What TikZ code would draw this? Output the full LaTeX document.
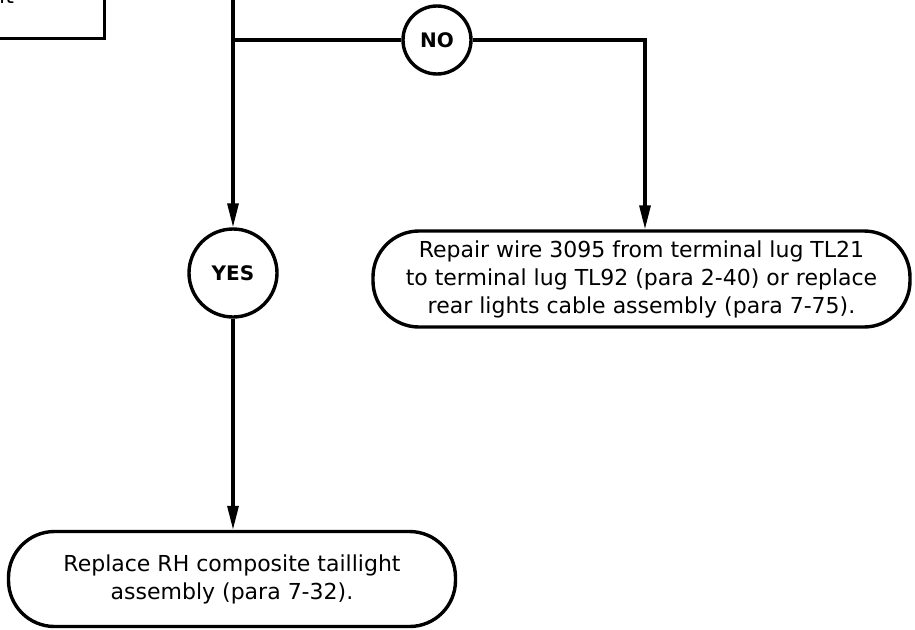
\documentclass[tikz,border=0pt]{standalone}
\usepackage{fontspec}
\setmainfont{DejaVu Sans}
\usetikzlibrary{arrows.meta}
\begin{document}
\begin{tikzpicture}[x=1pt,y=-1pt,
  line/.style={line width=3.2pt},
  conn/.style={line width=3.2pt,-{Triangle[length=24pt,width=11pt]}},
  action/.style={draw,line width=3.4pt,rounded corners=46pt,align=center,inner sep=0pt,
    font=\fontsize{22}{28}\selectfont},
  decision/.style={draw,circle,line width=3.4pt,inner sep=0pt,
    font=\bfseries\fontsize{20}{22}\selectfont},
  prevbox/.style={draw,line width=3.4pt,inner sep=0pt}]
\useasboundingbox (0,0) rectangle (915,629);
\clip (0,0) rectangle (915,629);
% partially visible previous box
\node[prevbox,minimum width=306pt,minimum height=150pt,anchor=south east] (prev) at (106,40) {};
\node[anchor=base west,inner sep=0pt,font=\fontsize{22}{28}\selectfont] (prevtxt) at (-1,3) {it};
% decisions
\node[decision,minimum size=68pt] (no) at (437,40) {NO};
\node[decision,minimum size=88pt] (yes) at (233,273) {YES};
% actions
\node[action,minimum width=537pt,minimum height=96pt] (rep) at (641.5,279)
  {Repair wire 3095 from terminal lug TL21\\to terminal lug TL92 (para 2-40) or replace\\rear lights cable assembly (para 7-75).};
\node[action,minimum width=447pt,minimum height=95pt] (repl) at (232,579)
  {Replace RH composite taillight\\assembly (para 7-32).};
% connectors
\coordinate (top) at (233,-10);
\coordinate (junc) at (233,40);
\coordinate (corner) at (645,40);
\draw[conn] (top) -- (yes);
\draw[line] (junc) -- (no);
\draw[conn] (no) -- (corner) -- (corner |- rep.north);
\draw[conn] (yes.south) -- (yes.south |- repl.north);
\end{tikzpicture}
\end{document}
